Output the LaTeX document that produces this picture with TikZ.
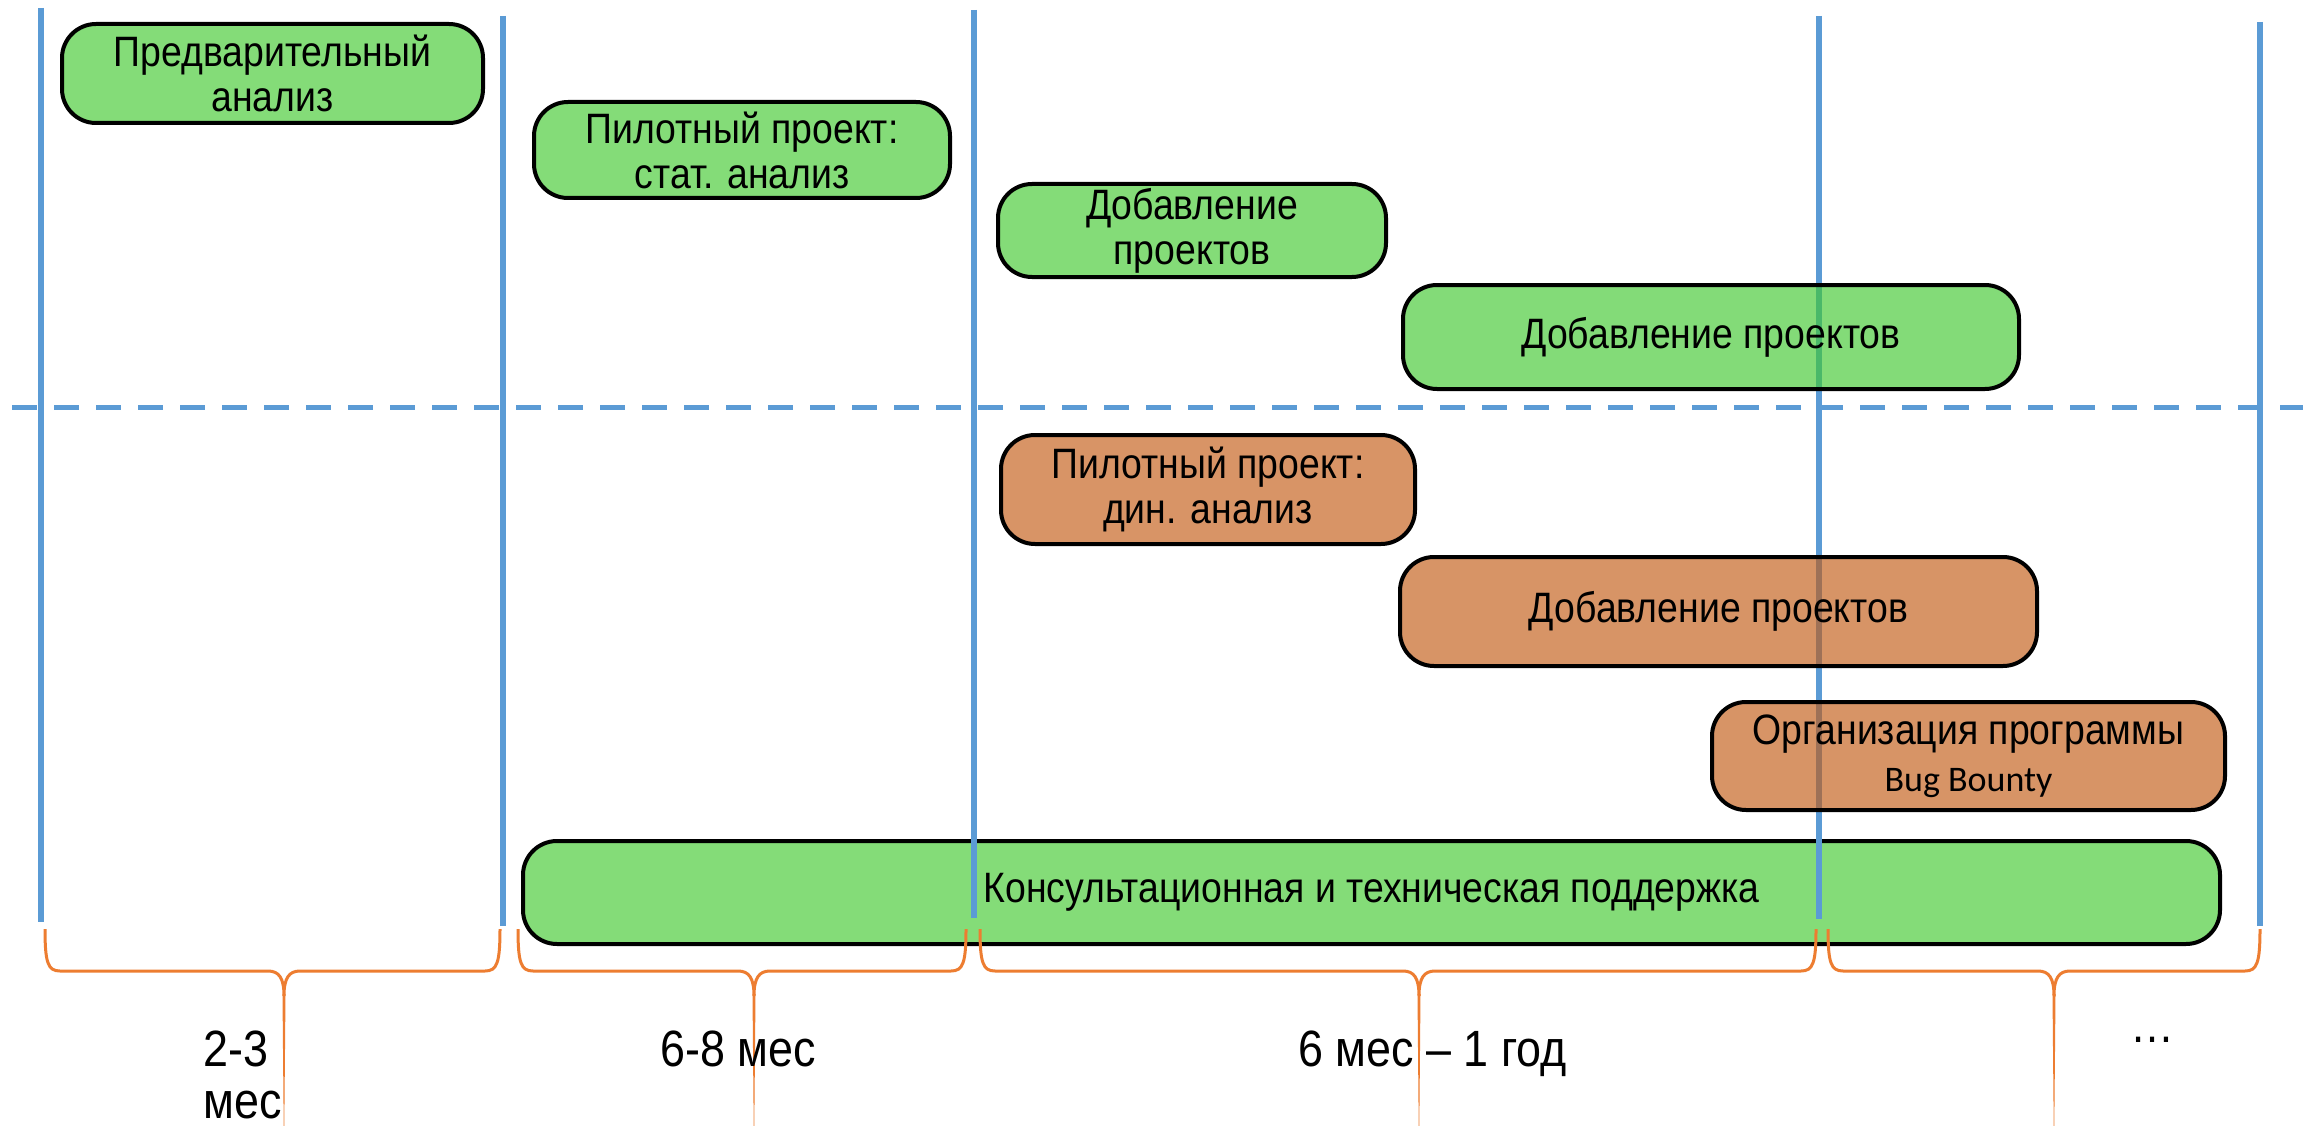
\documentclass[tikz,border=0pt]{standalone}
\usepackage{fontspec}
\setmainfont[FakeStretch=0.88]{Liberation Sans}
\newfontfamily\calibri{Carlito}
\definecolor{gfill}{RGB}{132,220,120}
\definecolor{ofill}{RGB}{216,148,102}
\definecolor{gfillt}{RGB}{66,201,48}
\definecolor{ofillt}{RGB}{195,91,20}
\definecolor{vblue}{RGB}{91,155,213}
\definecolor{borange}{RGB}{237,125,49}
\begin{document}
\begin{tikzpicture}[x=1pt,y=-1pt,
 box/.style={draw=black, line width=4pt, rounded corners=34pt, align=center, inner sep=0pt, font=\fontsize{42.5}{45}\selectfont},
 gbox/.style={box, fill=gfill},
 obox/.style={box, fill=ofill},
 gboxt/.style={box, fill=gfillt, fill opacity=0.65, text opacity=1},
 oboxt/.style={box, fill=ofillt, fill opacity=0.65, text opacity=1},
 vline/.style={draw=vblue, line width=5.5pt},
 hdash/.style={draw=vblue, line width=5pt, dash pattern=on 25pt off 17pt},
 brace/.style={draw=borange, line width=3pt},
 tail/.style={fill=borange},
 lab/.style={font=\fontsize{51}{57}\selectfont, inner sep=0pt, anchor=base west}]
\fill[white] (0,0) rectangle (2303,1126);
\useasboundingbox (0,0) rectangle (2303,1126);

% bottom support box (under the lines)
\node[gbox, minimum width=1697pt, minimum height=103pt] (b8) at (1371.5,892.5) {Консультационная и техническая поддержка};

% vertical period lines
\draw[vline] (41,8) -- (41,922);
\draw[vline] (503,16) -- (503,926);
\draw[vline] (974,10) -- (974,918);
\draw[vline] (1819,16) -- (1819,919);
\draw[vline] (2260,22) -- (2260,926);

% dashed separator
\draw[hdash] (12,407) -- (2303,407);

% braces
\draw[brace] (45,929) .. controls (45,963) and (48,971) .. (60,971) -- (268,971) .. controls (279,971) and (284,978) .. (284,996) .. controls (284,978) and (289,971) .. (300,971) -- (485,971) .. controls (497,971) and (500,963) .. (500,929);
\fill[tail] (282.5,994) -- (285.5,994) -- (284.3,1126) -- (283.7,1126) -- cycle;

\draw[brace] (518,929) .. controls (518,963) and (521,971) .. (533,971) -- (738,971) .. controls (749,971) and (754,978) .. (754,996) .. controls (754,978) and (759,971) .. (770,971) -- (951,971) .. controls (963,971) and (966,963) .. (966,929);
\fill[tail] (752.5,994) -- (755.5,994) -- (754.3,1126) -- (753.7,1126) -- cycle;

\draw[brace] (980,929) .. controls (980,963) and (983,971) .. (995,971) -- (1403,971) .. controls (1414,971) and (1419,978) .. (1419,996) .. controls (1419,978) and (1424,971) .. (1435,971) -- (1801,971) .. controls (1813,971) and (1816,963) .. (1816,929);
\fill[tail] (1417.5,994) -- (1420.5,994) -- (1419.3,1126) -- (1418.7,1126) -- cycle;

\draw[brace] (1828,929) .. controls (1828,963) and (1831,971) .. (1843,971) -- (2038,971) .. controls (2049,971) and (2054,978) .. (2054,996) .. controls (2054,978) and (2059,971) .. (2070,971) -- (2245,971) .. controls (2257,971) and (2260,963) .. (2260,929);
\fill[tail] (2052.5,994) -- (2055.5,994) -- (2054.3,1126) -- (2053.7,1126) -- cycle;

% upper (static analysis) boxes
\node[gbox, minimum width=421pt, minimum height=99pt] (b1) at (272.5,73.5) {Предварительный\\анализ};
\node[gbox, minimum width=416pt, minimum height=96pt] (b2) at (742,150) {Пилотный проект:\\стат. анализ};
\node[gbox, minimum width=388pt, minimum height=93pt] (b3) at (1192,230.5) {Добавление\\проектов};
\node[gboxt, minimum width=616pt, minimum height=104pt] (b4) at (1711,337) {Добавление проектов};

% lower (dynamic analysis) boxes
\node[obox, minimum width=414pt, minimum height=109pt] (b5) at (1208,489.5) {Пилотный проект:\\дин. анализ};
\node[oboxt, minimum width=637pt, minimum height=109pt] (b6) at (1718.5,611.5) {Добавление проектов};
\node[oboxt, minimum width=513pt, minimum height=108pt] (b7) at (1968.5,756) {Организация программы\\[2pt]{\calibri\fontsize{36}{40}\selectfont Bug Bounty}};

% duration labels
\node[lab] (l1a) at (203,1066) {2-3};
\node[lab] (l1b) at (203,1118) {мес};
\node[lab] (l2) at (660,1066) {6-8 мес};
\node[lab] (l3) at (1298,1066) {6 мес – 1 год};
\node[lab, font=\fontsize{50}{60}\selectfont] (l4) at (2130,1042) {…};
\end{tikzpicture}
\end{document}
